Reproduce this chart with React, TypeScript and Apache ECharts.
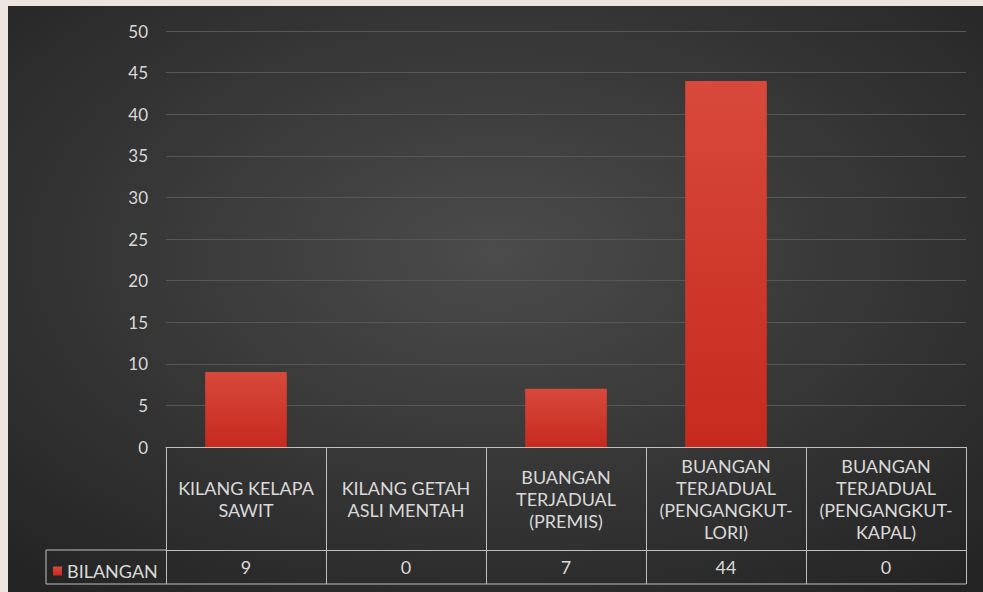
import React, { useEffect, useRef } from "react";
import * as echarts from "echarts";

const categories = [
  "KILANG KELAPA\nSAWIT",
  "KILANG GETAH\nASLI MENTAH",
  "BUANGAN\nTERJADUAL\n(PREMIS)",
  "BUANGAN\nTERJADUAL\n(PENGANGKUT-\nLORI)",
  "BUANGAN\nTERJADUAL\n(PENGANGKUT-\nKAPAL)",
];
const seriesName = "BILANGAN";
const values = [9, 0, 7, 44, 0];
const yMin = 0;
const yMax = 50;
const yStep = 5;

const FONT = "Lato, 'Noto Sans', sans-serif";
const TEXT = "#d9d9d9";
const BORDER = "#bfbfbf";

export default function App() {
  const ref = useRef<HTMLDivElement>(null);
  useEffect(() => {
    if (!ref.current) return;
    const chart = echarts.init(ref.current, undefined, { renderer: "svg" });
    const gLeft = 158;
    const gTop = 25;
    const gHeight = 416;
    const gRight = 17;
    const W = 975;
    const axisY = gTop + gHeight; // 441
    const row1 = 103;
    const row2 = 34;
    const legendLeft = 38;
    chart.setOption({
      animation: false,
      backgroundColor: {
        type: "radial",
        x: 0.5,
        y: 0.42,
        r: 0.75,
        colorStops: [
          { offset: 0, color: "#4b4b4b" },
          { offset: 1, color: "#232323" },
        ],
      },
      textStyle: { fontFamily: FONT },
      legend: {
        show: true,
        left: legendLeft + 7,
        top: axisY + row1 + 12,
        padding: 0,
        itemWidth: 9,
        itemHeight: 9,
        icon: "rect",
        textStyle: { color: TEXT, fontSize: 18, fontFamily: FONT },
        data: [seriesName],
      },
      grid: { left: gLeft, right: gRight, top: gTop, height: gHeight },
      xAxis: [
        {
          type: "category",
          data: categories,
          position: "bottom",
          axisLine: { show: true, lineStyle: { color: BORDER, width: 1 } },
          axisTick: {
            show: true,
            interval: 0,
            length: row1 + row2,
            lineStyle: { color: BORDER, width: 1 },
          },
          axisLabel: {
            interval: 0,
            color: TEXT,
            fontSize: 18,
            lineHeight: 22,
            margin: row1 / 2,
            verticalAlign: "middle",
            align: "center",
            fontFamily: FONT,
          },
          splitLine: { show: false },
        },
        {
          type: "category",
          data: categories,
          position: "bottom",
          offset: row1,
          axisLine: { show: true, lineStyle: { color: BORDER, width: 1 } },
          axisTick: { show: false },
          axisLabel: {
            interval: 0,
            color: TEXT,
            fontSize: 18,
            margin: row2 / 2,
            verticalAlign: "middle",
            fontFamily: FONT,
            formatter: (_v: string, i: number) => String(values[i]),
          },
        },
      ],
      yAxis: {
        type: "value",
        min: yMin,
        max: yMax,
        interval: yStep,
        axisLine: { show: false },
        axisTick: { show: false },
        axisLabel: { color: TEXT, fontSize: 17, margin: 18, fontFamily: FONT },
        splitLine: { show: true, lineStyle: { color: "#575757", width: 1 } },
      },
      series: [
        {
          name: seriesName,
          type: "bar",
          data: values,
          barWidth: "51%",
          itemStyle: {
            color: {
              type: "linear",
              x: 0,
              y: 0,
              x2: 0,
              y2: 1,
              colorStops: [
                { offset: 0, color: "#d8493c" },
                { offset: 1, color: "#c62a1d" },
              ],
            },
          },
        },
      ],
      graphic: [
        {
          type: "line",
          shape: { x1: legendLeft, y1: axisY + row1, x2: gLeft, y2: axisY + row1 },
          style: { stroke: BORDER, lineWidth: 1 },
        },
        {
          type: "line",
          shape: { x1: legendLeft, y1: axisY + row1 + row2, x2: W - gRight, y2: axisY + row1 + row2 },
          style: { stroke: BORDER, lineWidth: 1 },
        },
        {
          type: "line",
          shape: { x1: legendLeft, y1: axisY + row1, x2: legendLeft, y2: axisY + row1 + row2 },
          style: { stroke: BORDER, lineWidth: 1 },
        },
      ],
    });
    return () => chart.dispose();
  }, []);
  return (
    <div
      style={{
        position: "absolute",
        left: 0,
        top: 0,
        width: 983,
        height: 592,
        background: "#ede4df",
      }}
    >
      <div
        ref={ref}
        style={{ position: "absolute", left: 8, top: 6, width: 975, height: 586 }}
      />
    </div>
  );
}
